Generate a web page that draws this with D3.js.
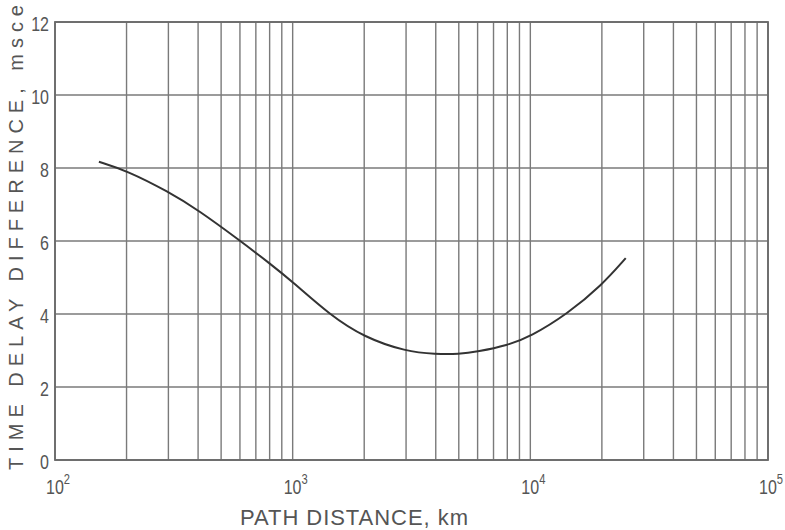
<!DOCTYPE html>
<html><head><meta charset="utf-8">
<script src="https://cdn.jsdelivr.net/npm/d3@7"></script>
<style>
html,body{margin:0;padding:0;background:#fff;}
svg{display:block;}
text{font-family:'Liberation Sans','Arial',sans-serif;fill:#555;}
</style></head>
<body>
<svg id="chart" width="785" height="530"></svg>
<script>
// Data
const distanceKm = [153, 200, 300, 400, 600, 800, 1000, 1436, 2000, 3000, 4000, 5000, 6000, 8000, 10000, 14300, 20000, 25200];
const delayMs    = [8.17, 7.93, 7.35, 6.85, 6.01, 5.39, 4.88, 3.97, 3.36, 2.97, 2.90, 2.90, 2.97, 3.14, 3.38, 4.00, 4.79, 5.53];
const yTicks = [0, 2, 4, 6, 8, 10, 12];
const xDecades = [2, 3, 4, 5];
const xLabel = "PATH DISTANCE, km";
const yLabel = "TIME DELAY DIFFERENCE, msce";

const svg = d3.select("#chart");
const L = 55, R = 768, T = 22, B = 460;
const x = d3.scaleLog().domain([100, 1e5]).range([L, R]);
const y = d3.scaleLinear().domain([0, 12]).range([B, T]);

// vertical grid lines
const vlines = [];
for (let k = 2; k <= 4; k++) for (let m = 1; m <= 9; m++) vlines.push(m * Math.pow(10, k));
vlines.push(1e5);
const grid = svg.append("g").attr("stroke", "#7a7a7a").attr("stroke-width", 1.4).attr("fill", "none");
grid.selectAll("line.v").data(vlines).enter().append("line")
  .attr("x1", d => x(d)).attr("x2", d => x(d)).attr("y1", T).attr("y2", B);
grid.selectAll("line.h").data(yTicks).enter().append("line")
  .attr("x1", L).attr("x2", R).attr("y1", d => y(d)).attr("y2", d => y(d));

// frame
svg.append("rect").attr("x", L).attr("y", T).attr("width", R - L).attr("height", B - T)
  .attr("fill", "none").attr("stroke", "#6a6a6a").attr("stroke-width", 1.8);

// y tick labels
svg.append("g").selectAll("text").data(yTicks).enter().append("text")
  .attr("transform", d => `translate(49,${y(d) + 9}) scale(0.8,1)`)
  .attr("text-anchor", "end").attr("font-size", 20)
  .text(d => d);

// x tick labels
const xl = svg.append("g").selectAll("text").data(xDecades).enter().append("text")
  .attr("transform", d => `translate(${x(Math.pow(10, d)) - 9},494) scale(0.8,1)`)
  .attr("font-size", 20);
xl.append("tspan").text("10");
xl.append("tspan").attr("dy", -10).attr("font-size", 14).text(d => d);

// axis labels
svg.append("text").attr("x", 240).attr("y", 525).attr("font-size", 22)
  .attr("textLength", 228).attr("lengthAdjust", "spacing").text(xLabel);
svg.append("text").attr("transform", "translate(23,470) rotate(-90)")
  .attr("x", 0).attr("y", 0).attr("font-size", 20)
  .attr("textLength", 465).attr("lengthAdjust", "spacing").text(yLabel);

// curve
const pts = distanceKm.map((d, i) => [d, delayMs[i]]);
const line = d3.line().x(d => x(d[0])).y(d => y(d[1])).curve(d3.curveBasis);
svg.append("path").datum(pts).attr("d", line)
  .attr("fill", "none").attr("stroke", "#333").attr("stroke-width", 2);
</script>
</body></html>
